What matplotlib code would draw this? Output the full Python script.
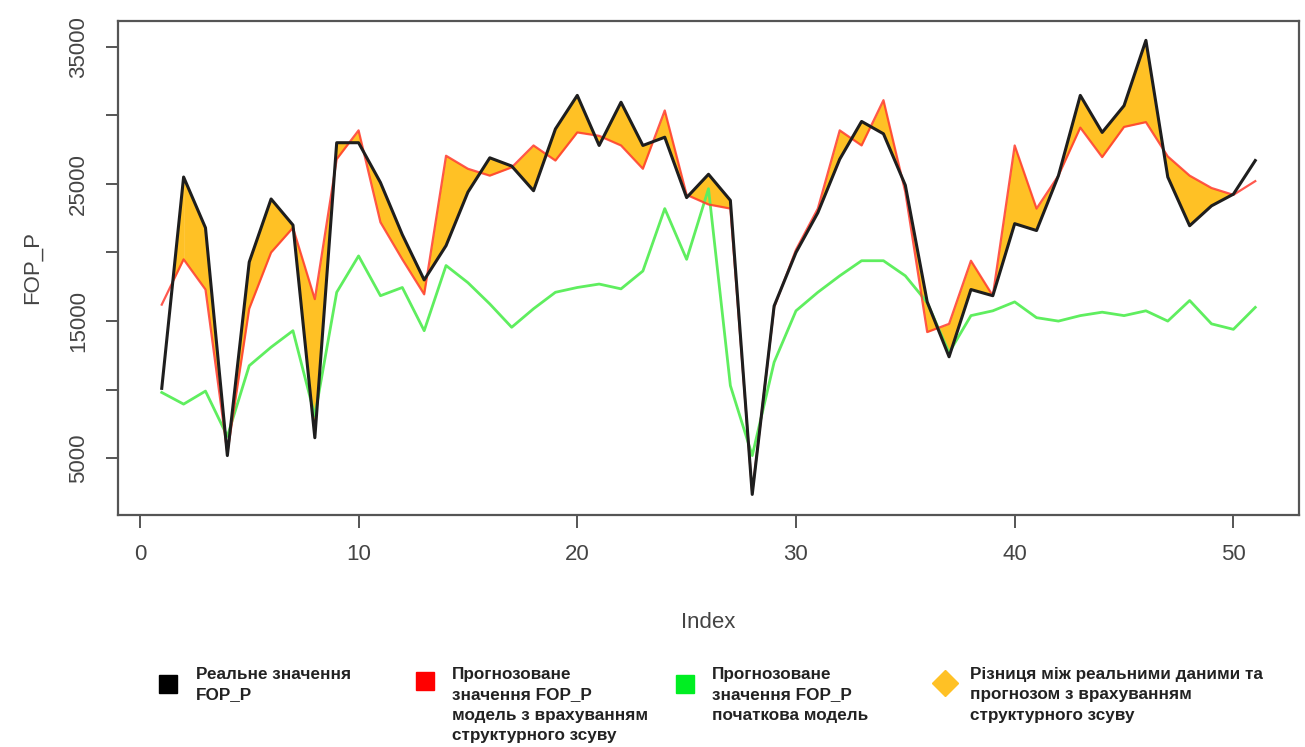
import numpy as np
import matplotlib.pyplot as plt
from matplotlib.lines import Line2D

plt.rcParams['font.family'] = ['Liberation Sans', 'DejaVu Sans']

# index 1..51
index = np.arange(1, 52)

actual = [10100, 25500, 21800, 5200, 19300, 23900, 22000, 6500, 28000, 28000,
          25100, 21300, 18000, 20500, 24400, 26900, 26300, 24500, 29000, 31450,
          27800, 30950, 27800, 28400, 24000, 25700, 23800, 2370, 16100, 20000,
          22900, 26800, 29550, 28650, 24900, 16400, 12400, 17300, 16850, 22100,
          21600, 25600, 31450, 28750, 30700, 35460, 25500, 21950, 23400, 24250,
          26700]

pred_shift = [16200, 19500, 17300, 5400, 15900, 20000, 21800, 16600, 26800, 28900,
              22200, 19500, 16950, 27050, 26100, 25600, 26200, 27800, 26700, 28750,
              28500, 27800, 26100, 30350, 24200, 23500, 23200, 2500, 16000, 20200,
              23200, 28900, 27800, 31100, 24400, 14200, 14800, 19400, 16850, 27800,
              23200, 25600, 29100, 26950, 29150, 29500, 27000, 25600, 24700, 24200,
              25200]

pred_init = [9800, 8950, 9900, 6600, 11750, 13100, 14300, 8100, 17100, 19750,
             16850, 17450, 14300, 19050, 17800, 16250, 14550, 15900, 17100, 17450,
             17700, 17350, 18650, 23200, 19500, 24650, 10300, 5200, 12000, 15750,
             17100, 18300, 19400, 19400, 18300, 16350, 12700, 15400, 15750, 16400,
             15250, 15000, 15400, 15650, 15400, 15750, 15000, 16500, 14800, 14400,
             16000]

x_ticks = [0, 10, 20, 30, 40, 50]
y_ticks = [5000, 10000, 15000, 20000, 25000, 30000, 35000]
y_labels = ['5000', '', '15000', '', '25000', '', '35000']

legend_labels = ['Реальне значення\nFOP_P',
                 'Прогнозоване\nзначення FOP_P\nмодель з врахуванням\nструктурного зсуву',
                 'Прогнозоване\nзначення FOP_P\nпочаткова модель',
                 'Різниця між реальними даними та\nпрогнозом з врахуванням\nструктурного зсуву']

axis_col = '#555555'
text_col = '#444444'
fill_col = '#FFC125'

fig = plt.figure(figsize=(13.05, 7.47), dpi=100)
ax = fig.add_axes([118 / 1305, 232 / 747, 1181 / 1305, 494 / 747])

a = np.array(actual)
p = np.array(pred_shift)
# difference area: from the first crossing up to index 50
ax.fill_between(index[:2], a[:2], p[:2], where=a[:2] >= p[:2],
                color=fill_col, interpolate=True, lw=0)
ax.fill_between(index[1:50], a[1:50], p[1:50], color=fill_col,
                interpolate=True, lw=0)
ax.plot(index, pred_init, color='#5fee5f', lw=2)
ax.plot(index, pred_shift, color='#ff3b2f', lw=1.6, alpha=0.85)
ax.plot(index, actual, color='#1e1e1e', lw=2.2)

ax.set_xlim(-1, 53)
ax.set_ylim(870, 36870)
ax.set_xticks(x_ticks)
ax.set_yticks(y_ticks)
ax.set_yticklabels(y_labels, rotation=90, va='center')
ax.tick_params(direction='out', length=9, width=1.4, color=axis_col,
               labelcolor=text_col, labelsize=16, pad=12)
for s in ax.spines.values():
    s.set_color(axis_col)
    s.set_linewidth(1.6)
ax.set_xlabel('Index', fontsize=16, color=text_col, labelpad=34)
ax.set_ylabel('FOP_P', fontsize=16, color=text_col, labelpad=18)

# legend below the plot
handles = [
    Line2D([], [], marker='s', ls='', color='black', ms=13),
    Line2D([], [], marker='s', ls='', color='#ff0000', ms=13),
    Line2D([], [], marker='s', ls='', color='#00ee22', ms=13),
    Line2D([], [], marker='D', ls='', color=fill_col, ms=13),
]
mark_x = [168, 425, 685, 945]
mark_y = [684, 681, 684, 683]
text_x = [196, 452, 712, 970]
for h, mx, my, tx, lab in zip(handles, mark_x, mark_y, text_x, legend_labels):
    h.set_data([mx / 1305], [1 - my / 747])
    h.set_transform(fig.transFigure)
    fig.add_artist(h)
    fig.text(tx / 1305, 1 - 667 / 747, lab, fontsize=12.3, fontweight='bold',
             color='#222222', va='top', ha='left', linespacing=1.45)

fig.savefig('out.png', dpi=100)
